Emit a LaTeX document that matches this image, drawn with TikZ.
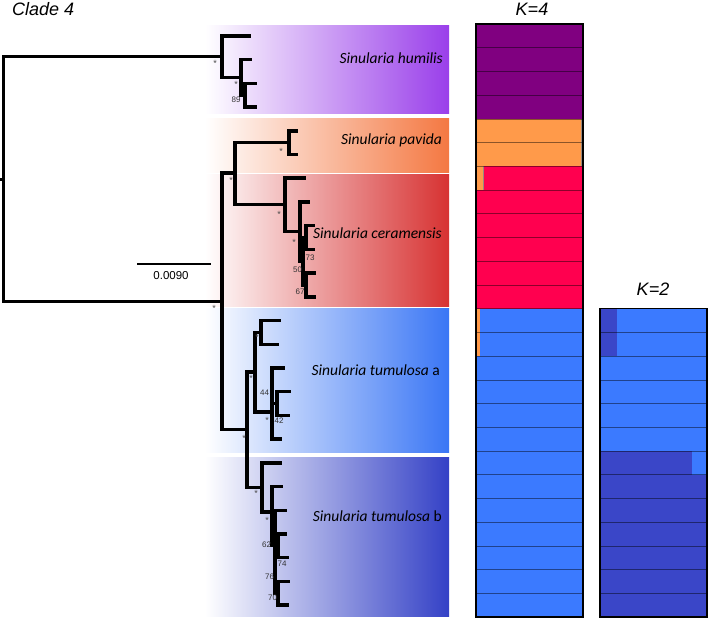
\documentclass[tikz,border=0pt]{standalone}
\usepackage{fontspec}
\setmainfont{Carlito}
\newfontfamily\arialf{Liberation Sans}
\newfontfamily\calf{Carlito}
\definecolor{humc}{HTML}{9A3FEA}
\definecolor{pavc}{HTML}{F47842}
\definecolor{cerc}{HTML}{D73232}
\definecolor{tac}{HTML}{3A76F5}
\definecolor{tbc}{HTML}{3441C6}
\definecolor{kpur}{HTML}{800080}
\definecolor{kora}{HTML}{FF9A4A}
\definecolor{kred}{HTML}{FF004F}
\definecolor{kblu}{HTML}{3B7AFF}
\definecolor{kdbl}{HTML}{3A46C8}
\definecolor{kgry}{HTML}{9A8A80}
\begin{document}
\begin{tikzpicture}[x=1pt,y=-1pt,
  branch/.style={line width=3.5pt,black},
  bsnum/.style={font=\arialf\fontsize{8}{9}\selectfont,text=black!80,inner sep=0pt},
  star/.style={font=\arialf\fontsize{9}{10}\selectfont,text=black!70,inner sep=0pt},
  species/.style={font=\calf\fontsize{15.5}{17}\selectfont,anchor=base east,inner sep=0pt},
  title/.style={font=\arialf\itshape\fontsize{18}{20}\selectfont,inner sep=0pt},
  sep/.style={line width=0.6pt,black,opacity=0.45},
  frame/.style={line width=1.2pt,black}]
\useasboundingbox (0,0) rectangle (709,619);
% ---------- coloured bands ----------
\shade[left color=white,right color=humc] (205,25) rectangle (449,113);
\shade[left color=white,right color=pavc] (205,118) rectangle (449,172);
\shade[left color=white,right color=cerc] (205,174) rectangle (449,306);
\shade[left color=white,right color=tac] (205,308) rectangle (449,452);
\shade[left color=white,right color=tbc] (205,457) rectangle (449,616);
% ---------- species labels ----------
\node[species] (lhum) at (443,63) {\textit{Sinularia humilis}};
\node[species] (lpav) at (442,144.3) {\textit{Sinularia pavida}};
\node[species] (lcer) at (442,238.3) {\textit{Sinularia ceramensis}};
\node[species] (lta) at (440,375) {\textit{Sinularia tumulosa} a};
\node[species] (ltb) at (442,521) {\textit{Sinularia tumulosa} b};
% ---------- tree coordinates ----------
\coordinate (R0) at (0,179.4);
\coordinate (R) at (3.5,179.4);
\coordinate (N1) at (222,56.7);
\coordinate (N2) at (241,77.4);
\coordinate (N3) at (245,95.2);
\coordinate (t0) at (251,35.9);
\coordinate (t1) at (252,59.6);
\coordinate (t2) at (257,83.3);
\coordinate (t3) at (257,107.1);
\coordinate (Nbig) at (222,301.5);
\coordinate (Npc) at (235,173);
\coordinate (Np) at (289,142.7);
\coordinate (t4) at (298,130.8);
\coordinate (t5) at (298,154.5);
\coordinate (Nc1) at (285,204.6);
\coordinate (t6) at (306,178.2);
\coordinate (Nc2) at (300,231.6);
\coordinate (t7) at (310,201.9);
\coordinate (Nc4) at (303,261.2);
\coordinate (B1) at (306,237.5);
\coordinate (t8) at (315,225.7);
\coordinate (t9) at (315,249.4);
\coordinate (B2) at (306,285);
\coordinate (t10) at (316,273.1);
\coordinate (t11) at (316,296.8);
\coordinate (Nt) at (247,429.5);
\coordinate (Nta) at (255,372.2);
\coordinate (Nta1) at (261,332.4);
\coordinate (t12) at (281,320.5);
\coordinate (t13) at (279,344.3);
\coordinate (Nta2) at (272,412);
\coordinate (t14) at (285,368);
\coordinate (Nta3) at (277,403.6);
\coordinate (t15) at (291,391.7);
\coordinate (t16) at (290,415.4);
\coordinate (t17) at (282,439.1);
\coordinate (Ntb) at (262,487.4);
\coordinate (t18) at (282,462.9);
\coordinate (Ntb2) at (272,512);
\coordinate (t19) at (283,486.6);
\coordinate (Ntb3) at (275,545);
\coordinate (t20) at (287,510.3);
\coordinate (B3) at (278,545.9);
\coordinate (t21) at (287,534);
\coordinate (t22) at (289,557.7);
\coordinate (B4) at (278,593.3);
\coordinate (t23) at (290,581.4);
\coordinate (t24) at (289,605.2);
% ---------- branches ----------
\draw[branch] (R0) -- (R);
\draw[branch] (R) |- (N1);
\draw[branch] (R) |- (Nbig);
\draw[branch] (N1) |- (t0);
\draw[branch] (N1) |- (N2);
\draw[branch] (N2) |- (t1);
\draw[branch] (N2) |- (N3);
\draw[branch] (N3) |- (t2);
\draw[branch] (N3) |- (t3);
\draw[branch] (Nbig) |- (Npc);
\draw[branch] (Nbig) |- (Nt);
\draw[branch] (Npc) |- (Np);
\draw[branch] (Npc) |- (Nc1);
\draw[branch] (Np) |- (t4);
\draw[branch] (Np) |- (t5);
\draw[branch] (Nc1) |- (t6);
\draw[branch] (Nc1) |- (Nc2);
\draw[branch] (Nc2) |- (t7);
\draw[branch] (Nc2) |- (Nc4);
\draw[branch] (Nc4) |- (B1);
\draw[branch] (Nc4) |- (B2);
\draw[branch] (B1) |- (t8);
\draw[branch] (B1) |- (t9);
\draw[branch] (B2) |- (t10);
\draw[branch] (B2) |- (t11);
\draw[branch] (Nt) |- (Nta);
\draw[branch] (Nt) |- (Ntb);
\draw[branch] (Nta) |- (Nta1);
\draw[branch] (Nta) |- (Nta2);
\draw[branch] (Nta1) |- (t12);
\draw[branch] (Nta1) |- (t13);
\draw[branch] (Nta2) |- (t14);
\draw[branch] (Nta2) |- (Nta3);
\draw[branch] (Nta2) |- (t17);
\draw[branch] (Nta3) |- (t15);
\draw[branch] (Nta3) |- (t16);
\draw[branch] (Ntb) |- (t18);
\draw[branch] (Ntb) |- (Ntb2);
\draw[branch] (Ntb2) |- (t19);
\draw[branch] (Ntb2) |- (Ntb3);
\draw[branch] (Ntb3) |- (t20);
\draw[branch] (Ntb3) |- (B3);
\draw[branch] (Ntb3) |- (B4);
\draw[branch] (B3) |- (t21);
\draw[branch] (B3) |- (t22);
\draw[branch] (B4) |- (t23);
\draw[branch] (B4) |- (t24);
% ---------- support values ----------
\node[star] (s1) at (215,63) {*};
\node[star] (s2) at (236,84) {*};
\node[star] (s3) at (231,180) {*};
\node[star] (s4) at (281,151) {*};
\node[star] (s5) at (279,214) {*};
\node[star] (s6) at (294,242) {*};
\node[star] (s7) at (214,308) {*};
\node[star] (s8) at (257,337) {*};
\node[star] (s9) at (251,378) {*};
\node[star] (s10) at (244,438) {*};
\node[star] (s11) at (267,420) {*};
\node[star] (s12) at (256,493) {*};
\node[star] (s13) at (267,520) {*};
\node[bsnum] (v89) at (236,100) {89};
\node[bsnum] (v73) at (310,258) {73};
\node[bsnum] (v50) at (297.5,270) {50};
\node[bsnum] (v67) at (300,292) {67};
\node[bsnum] (v44) at (264.5,393) {44};
\node[bsnum] (v42) at (279,421) {42};
\node[bsnum] (v62) at (266.5,545) {62};
\node[bsnum] (v74) at (282,564) {74};
\node[bsnum] (v76) at (269.5,577) {76};
\node[bsnum] (v70) at (272.5,598) {70};
% ---------- scale bar ----------
\coordinate (sb1) at (137,264);
\coordinate (sb2) at (211,264);
\draw[line width=1.6pt] (sb1) -- (sb2);
\node[font=\arialf\fontsize{11.5}{13}\selectfont,inner sep=0pt] (sbl) at (171,276) {0.0090};
% ---------- titles ----------
\node[title,anchor=base west] (clade) at (12,15) {Clade 4};
\node[title,anchor=base] (k4) at (532,15) {K=4};
\node[title,anchor=base] (k2) at (653,295) {K=2};
% ---------- K=4 bar plot ----------
\fill[kpur] (476,24) rectangle (583,118.88);
\fill[kora] (476,118.88) rectangle (581,166.32);
\fill[kgry] (581,118.88) rectangle (583,166.32);
\fill[kred] (476,166.32) rectangle (583,308.64);
\fill[kora] (476,166.32) rectangle (483,190.04);
\fill[kgry] (483,166.32) rectangle (484.3,190.04);
\fill[kblu] (476,308.64) rectangle (583,617);
\fill[kora] (476,308.64) rectangle (480,356.08);
\foreach \i in {1,...,24} \draw[sep] (476,24+23.72*\i) -- (583,24+23.72*\i);
\draw[frame] (476,24) rectangle (583,617);
% ---------- K=2 bar plot ----------
\fill[kblu] (600,308.64) rectangle (707,474.68);
\fill[kdbl] (600,308.64) rectangle (617,356.08);
\fill[kdbl] (600,450.96) rectangle (692,474.68);
\fill[kdbl] (600,474.68) rectangle (707,617);
\foreach \i in {1,...,12} \draw[sep] (600,308.64+23.72*\i) -- (707,308.64+23.72*\i);
\draw[frame] (600,308.64) rectangle (707,617);
\end{tikzpicture}
\end{document}
